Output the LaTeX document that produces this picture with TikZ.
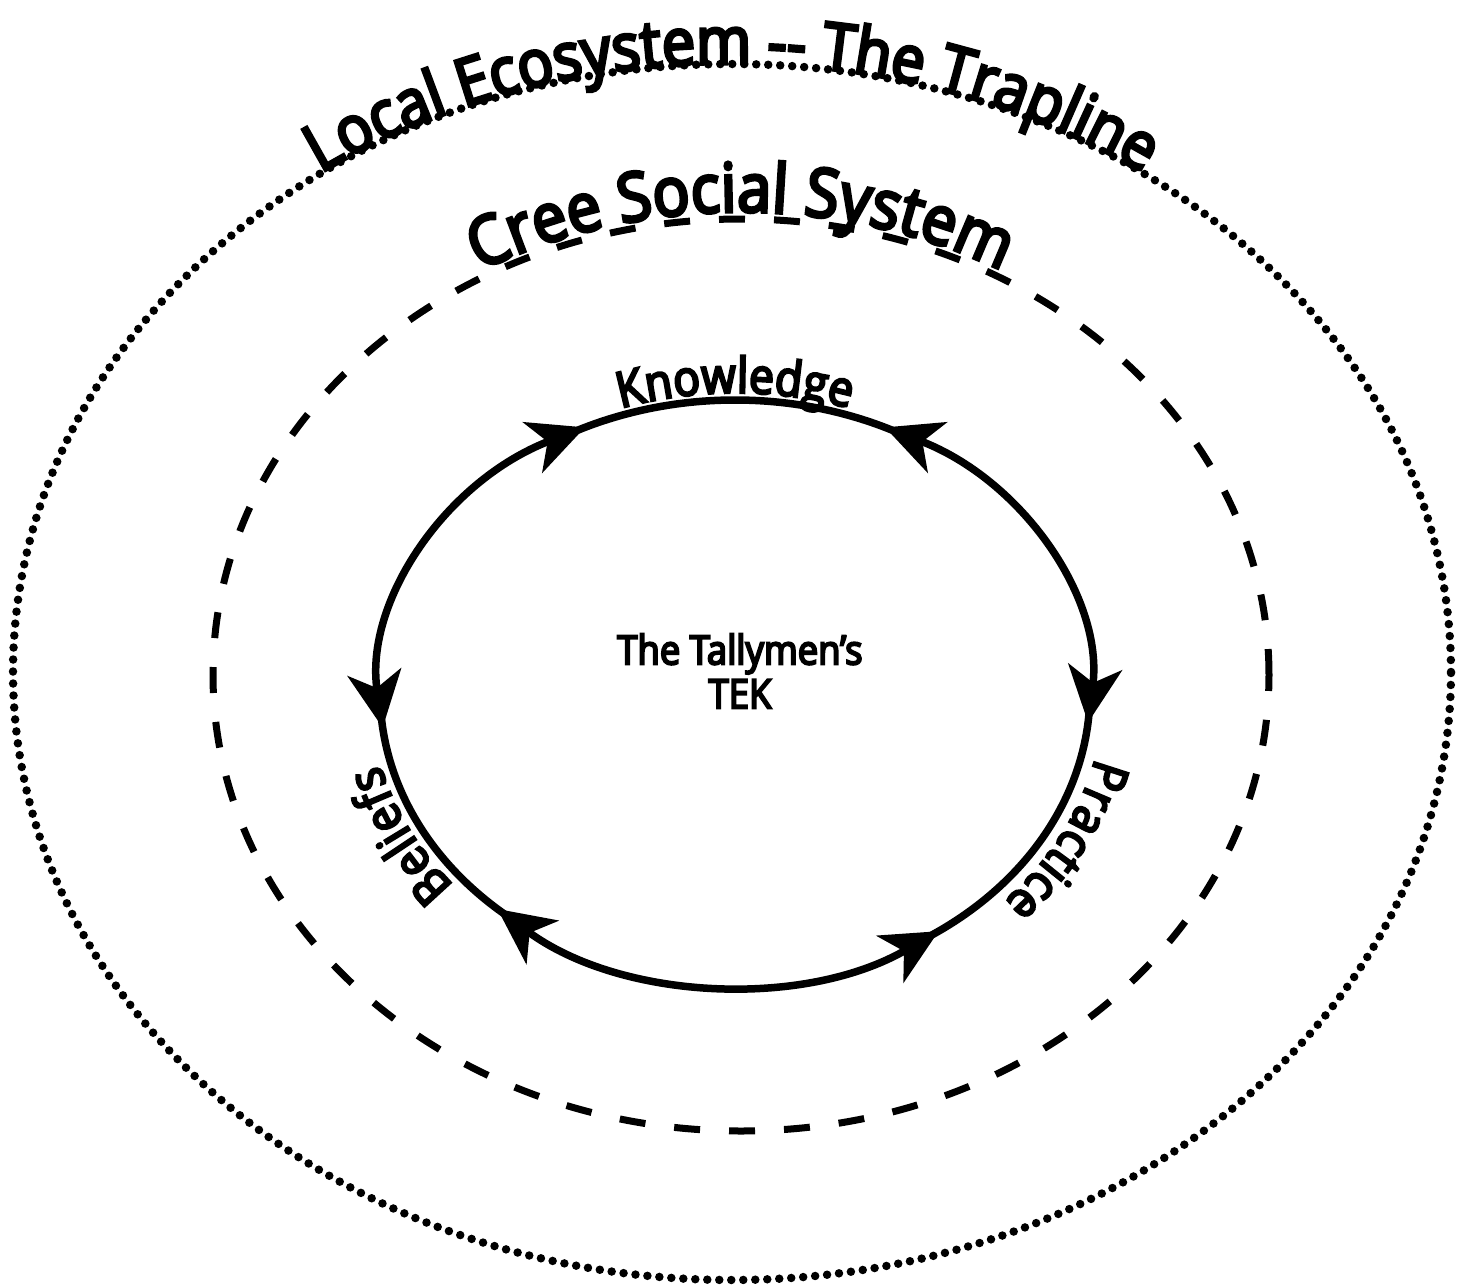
\documentclass[tikz,border=0pt]{standalone}
\usepackage{fontspec}
\setmainfont{Open Sans}[FakeBold=5, FakeStretch=0.9]
\usetikzlibrary{arrows.meta,decorations.text,calc}

\tikzset{
	>={Stealth[length=5.6mm,width=5.4mm,inset=1.6mm]},
	ring/.style={line width=0.075cm},
	bent text/.style={decorate, decoration={text along path, text align=center, raise=#1}},
	bent text/.default=2pt
}

\begin{document}
\begin{tikzpicture}
	\useasboundingbox (0,0) rectangle (14.57,12.86);

	\coordinate (eco) at (7.32,6.14);   % trapline
	\coordinate (cree) at (7.41,6.11);  % social system
	\coordinate (tek) at (7.35,5.94);   % knowledge cycle

	% the two outer rings
	\draw[line width=0.085cm, line cap=round, dash pattern=on 0pt off 0.12cm] (eco) ellipse [x radius=7.19, y radius=6.08];
	\draw[line width=0.07cm, dash pattern=on 0.26cm off 0.29cm] (cree) ellipse [x radius=5.28, y radius=4.56];

	% inner ring: plain pieces under the labels (running on under the tips), double arrows in between
	\foreach \s/\e in {118/62, -3/-58, 231/184}
		\draw[ring] ($(tek)+(\s:3.55 and 2.92)$) arc [start angle=\s, end angle=\e, x radius=3.55, y radius=2.92];
	\foreach \s/\e in {187/115, 65/-6, 305/228}
		\draw[ring,<->] ($(tek)+(\s:3.55 and 2.92)$) arc [start angle=\s, end angle=\e, x radius=3.55, y radius=2.92];

	% labels along the rings
	\path[bent text=0pt, decoration={text={|\fontsize{18.7}{22}\selectfont|Local Ecosystem -- The Trapline}}]
		($(eco)+(170:7.19 and 6.08)$) arc [start angle=170, end angle=10, x radius=7.19, y radius=6.08];
	\path[bent text=2pt, decoration={text={|\fontsize{19.3}{22}\selectfont|Cree Social System}}]
		($(cree)+(160:5.28 and 4.56)$) arc [start angle=160, end angle=20, x radius=5.28, y radius=4.56];
	\path[bent text=2pt, decoration={text={|\fontsize{14}{16}\selectfont|Knowledge}}]
		($(tek)+(150:3.55 and 2.92)$) arc [start angle=150, end angle=30, x radius=3.55, y radius=2.92];
	\path[bent text=3pt, decoration={text={|\fontsize{14.2}{16}\selectfont|Beliefs}}]
		($(tek)+(245:3.55 and 2.92)$) arc [start angle=245, end angle=165, x radius=3.55, y radius=2.92];
	\path[bent text=4pt, decoration={text={|\fontsize{14.2}{16}\selectfont|Practice}}]
		($(tek)+(374:3.55 and 2.92)$) arc [start angle=374, end angle=294, x radius=3.55, y radius=2.92];

	\node[align=center, font=\fontsize{11.5}{12.5}\selectfont] (tallymen) at (7.40,6.15) {The Tallymen’s\\TEK};
\end{tikzpicture}
\end{document}
